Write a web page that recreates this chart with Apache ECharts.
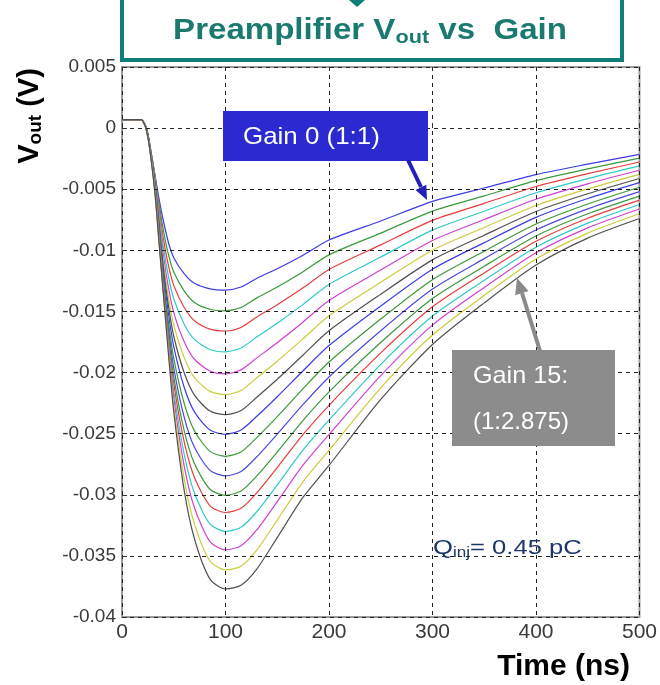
<!DOCTYPE html>
<html><head><meta charset="utf-8">
<script src="https://cdn.jsdelivr.net/npm/echarts@6/dist/echarts.min.js"></script>
<style>html,body{margin:0;padding:0;background:#fff}#c{width:660px;height:685px}</style>
</head><body><div id="c"></div>
<script>
const timeNs = [0,18,22,25,28,32,36,40,45,50,60,70,85,100,115,130,150,175,200,250,300,350,400,450,500];
const gain0 = [0.0007,0.0007,0.00035,-0.00045,-0.0019,-0.0039,-0.0059,-0.0076,-0.0094,-0.0106,-0.0119,-0.0127,-0.01315,-0.01325,-0.013,-0.0123,-0.0115,-0.0104,-0.00915,-0.0076,-0.006,-0.0049,-0.0038,-0.00295,-0.00215];
const gain1 = [0.0007,0.0007,0.00034,-0.00047,-0.00194,-0.00401,-0.00629,-0.00836,-0.01039,-0.01178,-0.01331,-0.01426,-0.01482,-0.01495,-0.01468,-0.01391,-0.013,-0.01175,-0.01037,-0.00859,-0.00679,-0.00554,-0.0043,-0.00334,-0.00246];
const gain2 = [0.0007,0.0007,0.00034,-0.00049,-0.00198,-0.00411,-0.00666,-0.00905,-0.0113,-0.01287,-0.01466,-0.01576,-0.01645,-0.0166,-0.01631,-0.01547,-0.01445,-0.01307,-0.01156,-0.00955,-0.00755,-0.00616,-0.00478,-0.00373,-0.00277];
const gain3 = [0.0007,0.0007,0.00033,-0.00051,-0.00202,-0.00422,-0.00701,-0.00972,-0.01219,-0.01396,-0.01602,-0.01729,-0.01811,-0.0183,-0.01799,-0.0171,-0.01596,-0.01442,-0.01279,-0.01055,-0.00835,-0.0068,-0.00529,-0.00413,-0.00309];
const gain4 = [0.0007,0.0007,0.00032,-0.00053,-0.00206,-0.00433,-0.00734,-0.01039,-0.0131,-0.01509,-0.01745,-0.01891,-0.01987,-0.0201,-0.01978,-0.01882,-0.01756,-0.01586,-0.0141,-0.01161,-0.00919,-0.00748,-0.00582,-0.00456,-0.00345];
const gain5 = [0.0007,0.0007,0.00032,-0.00055,-0.0021,-0.00443,-0.00765,-0.01096,-0.0139,-0.0161,-0.01876,-0.02041,-0.02154,-0.0218,-0.02147,-0.02045,-0.01907,-0.01723,-0.01536,-0.01262,-0.00999,-0.00813,-0.00633,-0.00497,-0.00378];
const gain6 = [0.0007,0.0007,0.00031,-0.00057,-0.00214,-0.00454,-0.00794,-0.01145,-0.01461,-0.01703,-0.02,-0.02185,-0.02315,-0.02345,-0.02311,-0.02204,-0.02055,-0.01856,-0.01658,-0.01359,-0.01078,-0.00876,-0.00682,-0.00537,-0.00412];
const gain7 = [0.0007,0.0007,0.0003,-0.00059,-0.00218,-0.00465,-0.00821,-0.01188,-0.01525,-0.01788,-0.02118,-0.02322,-0.0247,-0.02505,-0.0247,-0.0236,-0.02198,-0.01985,-0.01779,-0.01455,-0.01154,-0.00937,-0.0073,-0.00576,-0.00446];
const gain8 = [0.0007,0.0007,0.0003,-0.00061,-0.00222,-0.00475,-0.00845,-0.01235,-0.01595,-0.01884,-0.0225,-0.02477,-0.02645,-0.02685,-0.0265,-0.02534,-0.0236,-0.02131,-0.01914,-0.01562,-0.0124,-0.01007,-0.00785,-0.00621,-0.00484];
const gain9 = [0.0007,0.0007,0.00029,-0.00063,-0.00226,-0.00486,-0.00868,-0.01269,-0.0165,-0.01961,-0.02362,-0.02612,-0.028,-0.02845,-0.0281,-0.02691,-0.02504,-0.02261,-0.02036,-0.01658,-0.01317,-0.01068,-0.00834,-0.00661,-0.0052];
const gain10 = [0.0007,0.0007,0.00028,-0.00065,-0.0023,-0.00497,-0.00888,-0.01297,-0.01699,-0.02034,-0.02473,-0.02745,-0.02955,-0.03005,-0.0297,-0.02848,-0.0265,-0.02391,-0.02158,-0.01754,-0.01394,-0.0113,-0.00883,-0.00701,-0.00556];
const gain11 = [0.0007,0.0007,0.00028,-0.00067,-0.00234,-0.00507,-0.00907,-0.01313,-0.01733,-0.0209,-0.02564,-0.02859,-0.0309,-0.03145,-0.03111,-0.02987,-0.02777,-0.02506,-0.02268,-0.01839,-0.01462,-0.01185,-0.00926,-0.00737,-0.00589];
const gain12 = [0.0007,0.0007,0.00027,-0.00069,-0.00238,-0.00518,-0.00923,-0.01331,-0.01771,-0.02153,-0.02665,-0.02986,-0.03239,-0.033,-0.03266,-0.03141,-0.02919,-0.02633,-0.02389,-0.01933,-0.01538,-0.01245,-0.00974,-0.00777,-0.00625];
const gain13 = [0.0007,0.0007,0.00026,-0.00071,-0.00242,-0.00529,-0.00938,-0.01342,-0.01802,-0.02208,-0.02761,-0.03106,-0.03383,-0.0345,-0.03417,-0.0329,-0.03056,-0.02756,-0.02507,-0.02025,-0.01612,-0.01304,-0.0102,-0.00816,-0.00662];
const gain14 = [0.0007,0.0007,0.00026,-0.00073,-0.00246,-0.00539,-0.0095,-0.01355,-0.01836,-0.02269,-0.02865,-0.03238,-0.03542,-0.03615,-0.03584,-0.03455,-0.03207,-0.02892,-0.02636,-0.02125,-0.01693,-0.01369,-0.01071,-0.00859,-0.00701];
const gain15 = [0.0007,0.0007,0.00025,-0.00075,-0.0025,-0.0055,-0.0096,-0.0136,-0.0186,-0.0232,-0.0296,-0.0336,-0.0369,-0.0377,-0.0374,-0.0361,-0.0335,-0.0302,-0.0276,-0.0222,-0.0177,-0.0143,-0.0112,-0.009,-0.0074];
const gainSeries = [gain0,gain1,gain2,gain3,gain4,gain5,gain6,gain7,gain8,gain9,gain10,gain11,gain12,gain13,gain14,gain15];
const gainNames = gainSeries.map((_, i) => 'Gain ' + i);
const xTicks = [0,100,200,300,400,500];

const lineColors = ['#3c3ce6','#3a9a3a','#e83c3c','#30c8c8','#d040d0','#cccc3a','#505050',
                    '#3c3ce6','#3a9a3a','#4a4ae0','#3a9a3a','#e83c3c','#30c8c8','#d040d0','#cccc3a','#505050'];
const FF = "'Liberation Sans', Arial, sans-serif";

const chart = echarts.init(document.getElementById('c'), null, {renderer:'canvas'});
const series = gainSeries.map((arr, i) => ({
  name: gainNames[i], type: 'line', showSymbol: false, smooth: 0.25,
  data: timeNs.map((t, j) => [t, arr[j]]),
  lineStyle: {color: lineColors[i], width: 1.2}, itemStyle: {color: lineColors[i]}, z: 2
}));

function fmtY(v){ return parseFloat(v.toFixed(4)).toString(); }

chart.setOption({
  animation: false,
  backgroundColor: '#fff',
  grid: {left:122, right:20, top:67, bottom:68, show:true, borderColor:'#9a9a9a', borderWidth:2, backgroundColor:'transparent'},
  xAxis: {type:'value', min:0, max:500, interval:100, z:5,
    axisLine:{show:false},
    axisTick:{inside:true, length:5, lineStyle:{color:'#333'}},
    axisLabel:{fontSize:21, color:'#3a3a3a', margin:5, fontFamily:FF, formatter: v => xTicks.indexOf(v) >= 0 ? String(v) : ''},
    splitLine:{show:true, lineStyle:{color:'#222', type:[4,4], width:1}}},
  yAxis: {type:'value', min:-0.04, max:0.005, interval:0.005, z:5,
    axisLine:{show:false},
    axisTick:{inside:true, length:5, lineStyle:{color:'#333'}},
    axisLabel:{fontSize:19, color:'#3a3a3a', margin:6, fontFamily:FF, formatter: fmtY},
    splitLine:{show:true, lineStyle:{color:'#222', type:[4,4], width:1}}},
  series: series,
  graphic: [
    {type:'rect', shape:{x:122, y:-4, width:500, height:64}, style:{fill:'#fff', stroke:'#0e7f78', lineWidth:4}, z:10},
    {type:'polygon', shape:{points:[[349,0],[365,0],[357,7]]}, style:{fill:'#0e7f78'}, z:11},
    {type:'text', x:370, y:31, scaleX:1.14, z:11,
      style:{text:'{a|Preamplifier V}{s|out}{a| vs  Gain}', align:'center', verticalAlign:'middle',
        rich:{a:{fontSize:29, fontWeight:'bold', fill:'#1b7a70', fontFamily:FF},
              s:{fontSize:19, fontWeight:'bold', fill:'#1b7a70', fontFamily:FF, padding:[14,0,0,0]}}}},
    {type:'text', x:30, y:116, rotation:Math.PI/2, z:11,
      style:{text:'{a|V}{s|out}{a| (V)}', align:'center', verticalAlign:'middle',
        rich:{a:{fontSize:29, fontWeight:'bold', fill:'#000', fontFamily:FF},
              s:{fontSize:19, fontWeight:'bold', fill:'#000', fontFamily:FF, padding:[12,0,0,0]}}}},
    {type:'text', x:630, y:667, z:11,
      style:{text:'Time (ns)', align:'right', verticalAlign:'middle', fontSize:30, fontWeight:'bold', fill:'#000', fontFamily:FF}},
    {type:'rect', shape:{x:223, y:111, width:205, height:50}, style:{fill:'#2a2ad0'}, z:10},
    {type:'text', x:243, y:137, scaleX:1.08, z:11, style:{text:'Gain 0 (1:1)', align:'left', verticalAlign:'middle', fontSize:24, fill:'#fff', fontFamily:FF}},
    {type:'line', shape:{x1:408, y1:160, x2:421, y2:187}, style:{stroke:'#2020b8', lineWidth:4}, z:11},
    {type:'polygon', shape:{points:[[427,200],[426.3,184.8],[415.5,190]]}, style:{fill:'#2020b8'}, z:11},
    {type:'rect', shape:{x:452, y:350, width:163, height:96}, style:{fill:'#8c8c8c'}, z:10},
    {type:'text', x:473, y:376, scaleX:1.05, z:11, style:{text:'Gain 15:', align:'left', verticalAlign:'middle', fontSize:24, fill:'#fff', fontFamily:FF}},
    {type:'text', x:473, y:422, scaleX:1.0, z:11, style:{text:'(1:2.875)', align:'left', verticalAlign:'middle', fontSize:24, fill:'#fff', fontFamily:FF}},
    {type:'line', shape:{x1:540, y1:351, x2:522, y2:293}, style:{stroke:'#8a8a8a', lineWidth:4}, z:11},
    {type:'polygon', shape:{points:[[517,278],[528.6,291.1],[515.2,295.3]]}, style:{fill:'#8a8a8a'}, z:11},
    {type:'text', x:433, y:548, scaleX:1.22, z:11,
      style:{text:'{a|Q}{s|inj}{a|= 0.45 pC}', align:'left', verticalAlign:'middle',
        rich:{a:{fontSize:21, fill:'#1c3766', fontFamily:FF}, s:{fontSize:14, fill:'#1c3766', fontFamily:FF, padding:[10,0,0,0]}}}}
  ]
});
</script></body></html>
